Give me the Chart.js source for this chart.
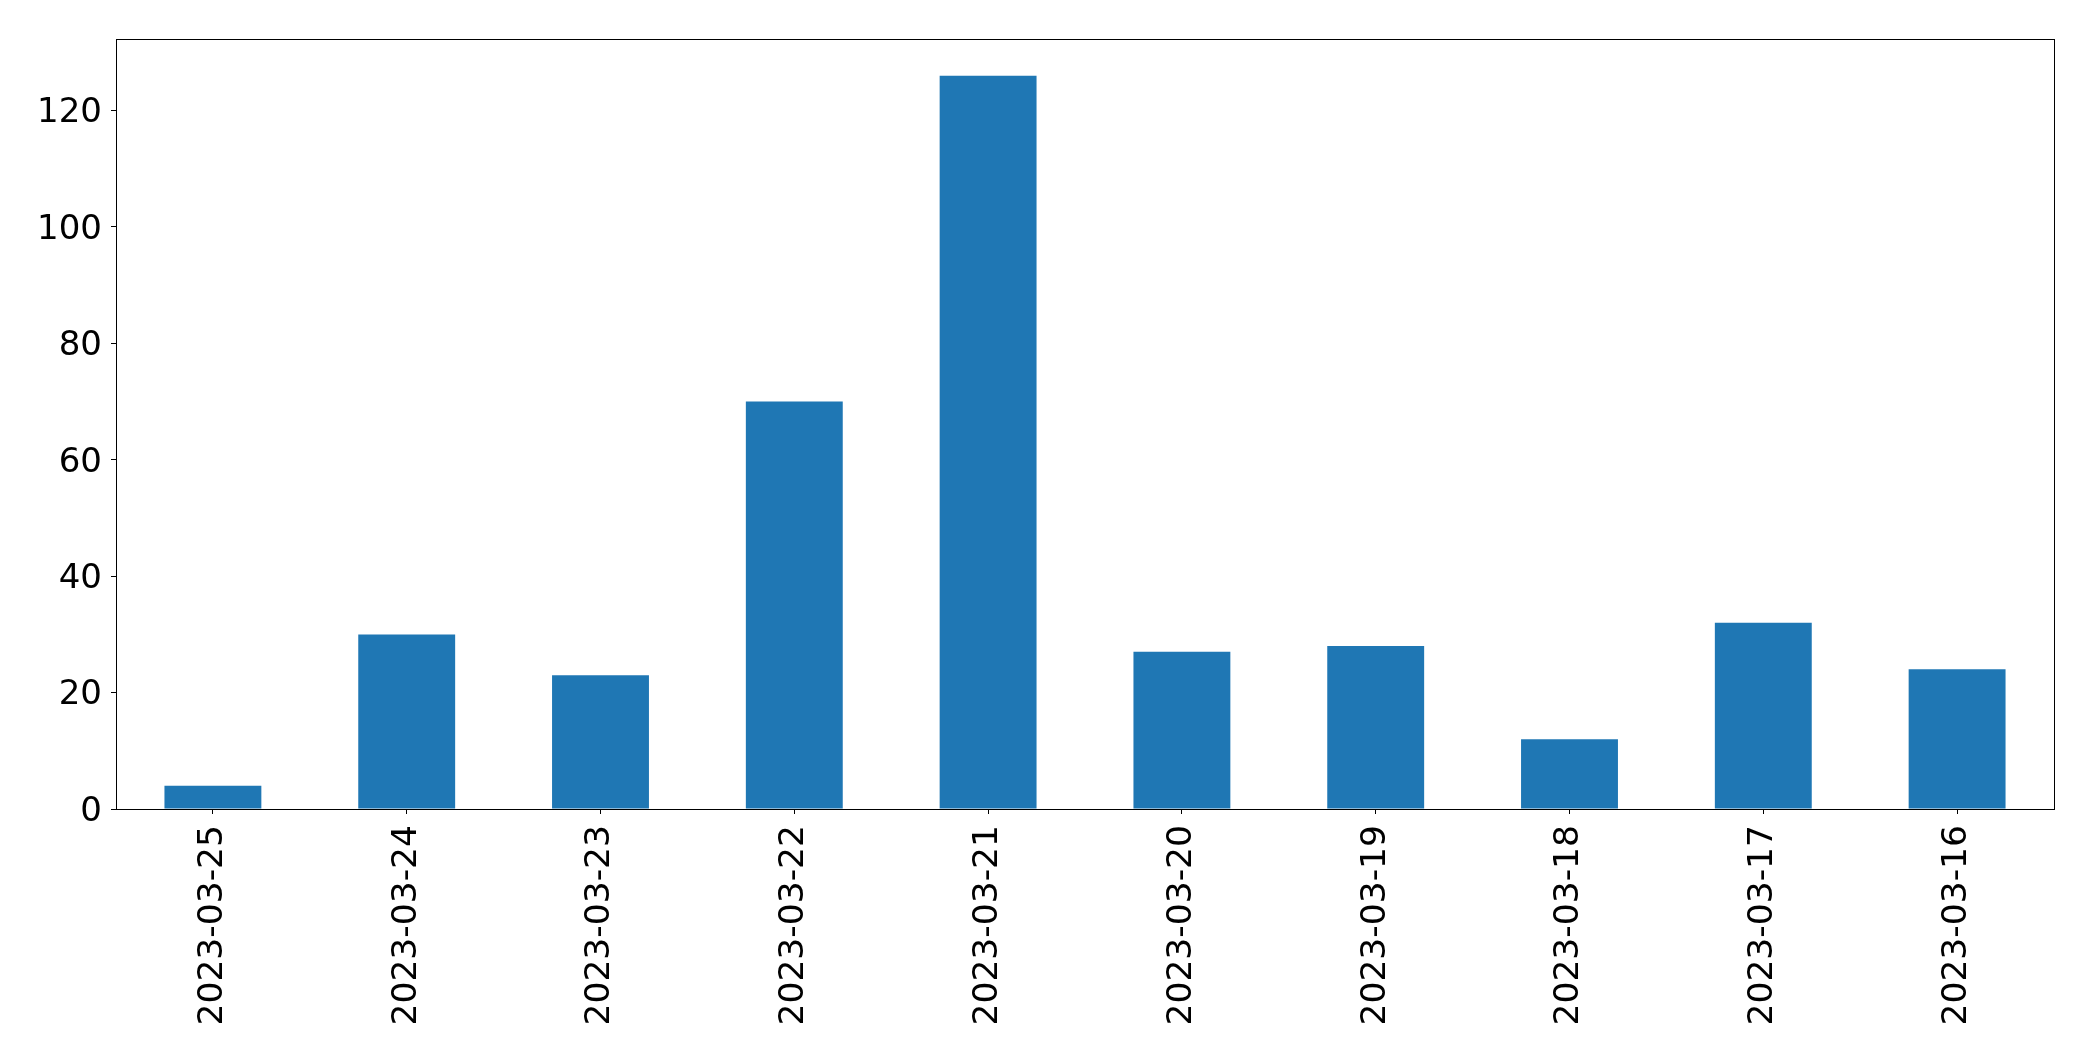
<!DOCTYPE html>
<html>
<head>
<meta charset="utf-8">
<script src="https://cdn.jsdelivr.net/npm/chart.js@4"></script>
<style>
html,body{margin:0;padding:0;background:#fff;}
canvas{display:block;}
</style>
</head>
<body>
<canvas id="c" width="2093" height="1061"></canvas>
<script>
const categories = ["2023-03-25","2023-03-24","2023-03-23","2023-03-22","2023-03-21","2023-03-20","2023-03-19","2023-03-18","2023-03-17","2023-03-16"];
const values = [4, 30, 23, 70, 126, 27, 28, 12, 32, 24];
const yTicks = [0, 20, 40, 60, 80, 100, 120];
const yMax = 132.3;

const frame = {
  id: 'frame',
  afterDraw(chart) {
    const a = chart.chartArea, ctx = chart.ctx;
    ctx.save();
    ctx.strokeStyle = '#000';
    ctx.lineWidth = 1;
    ctx.strokeRect(Math.round(a.left) + 0.5, Math.round(a.top) + 0.5, Math.round(a.right - a.left), Math.round(a.bottom - a.top));
    ctx.restore();
  }
};

new Chart(document.getElementById('c'), {
  type: 'bar',
  data: {
    labels: categories,
    datasets: [{
      data: values,
      backgroundColor: '#1f77b4',
      borderWidth: 0,
      barPercentage: 0.5,
      categoryPercentage: 1.0
    }]
  },
  options: {
    responsive: false,
    animation: false,
    devicePixelRatio: 1,
    layout: { padding: { top: 39, right: 39, left: 0, bottom: 0 } },
    plugins: { legend: { display: false }, tooltip: { enabled: false } },
    scales: {
      x: {
        offset: true,
        grid: { display: true, drawOnChartArea: false, drawTicks: true, tickLength: 5, color: '#000', lineWidth: 1, offset: false },
        border: { display: true, color: '#000', width: 1 },
        ticks: {
          color: '#000',
          font: { family: 'DejaVu Sans', size: 34.5 },
          minRotation: 90, maxRotation: 90,
          padding: 11,
          autoSkip: false
        },
        afterFit(scale) { scale.height = 1061 - 809; }
      },
      y: {
        min: 0, max: yMax,
        grid: { display: true, drawOnChartArea: false, drawTicks: true, tickLength: 5, color: '#000', lineWidth: 1 },
        border: { display: true, color: '#000', width: 1 },
        ticks: {
          color: '#000',
          font: { family: 'DejaVu Sans', size: 34 },
          padding: 9,
          labelOffset: 3
        },
        afterBuildTicks(scale) { scale.ticks = yTicks.map(v => ({ value: v })); },
        afterFit(scale) { scale.width = 116; }
      }
    }
  },
  plugins: [frame]
});
</script>
</body>
</html>
